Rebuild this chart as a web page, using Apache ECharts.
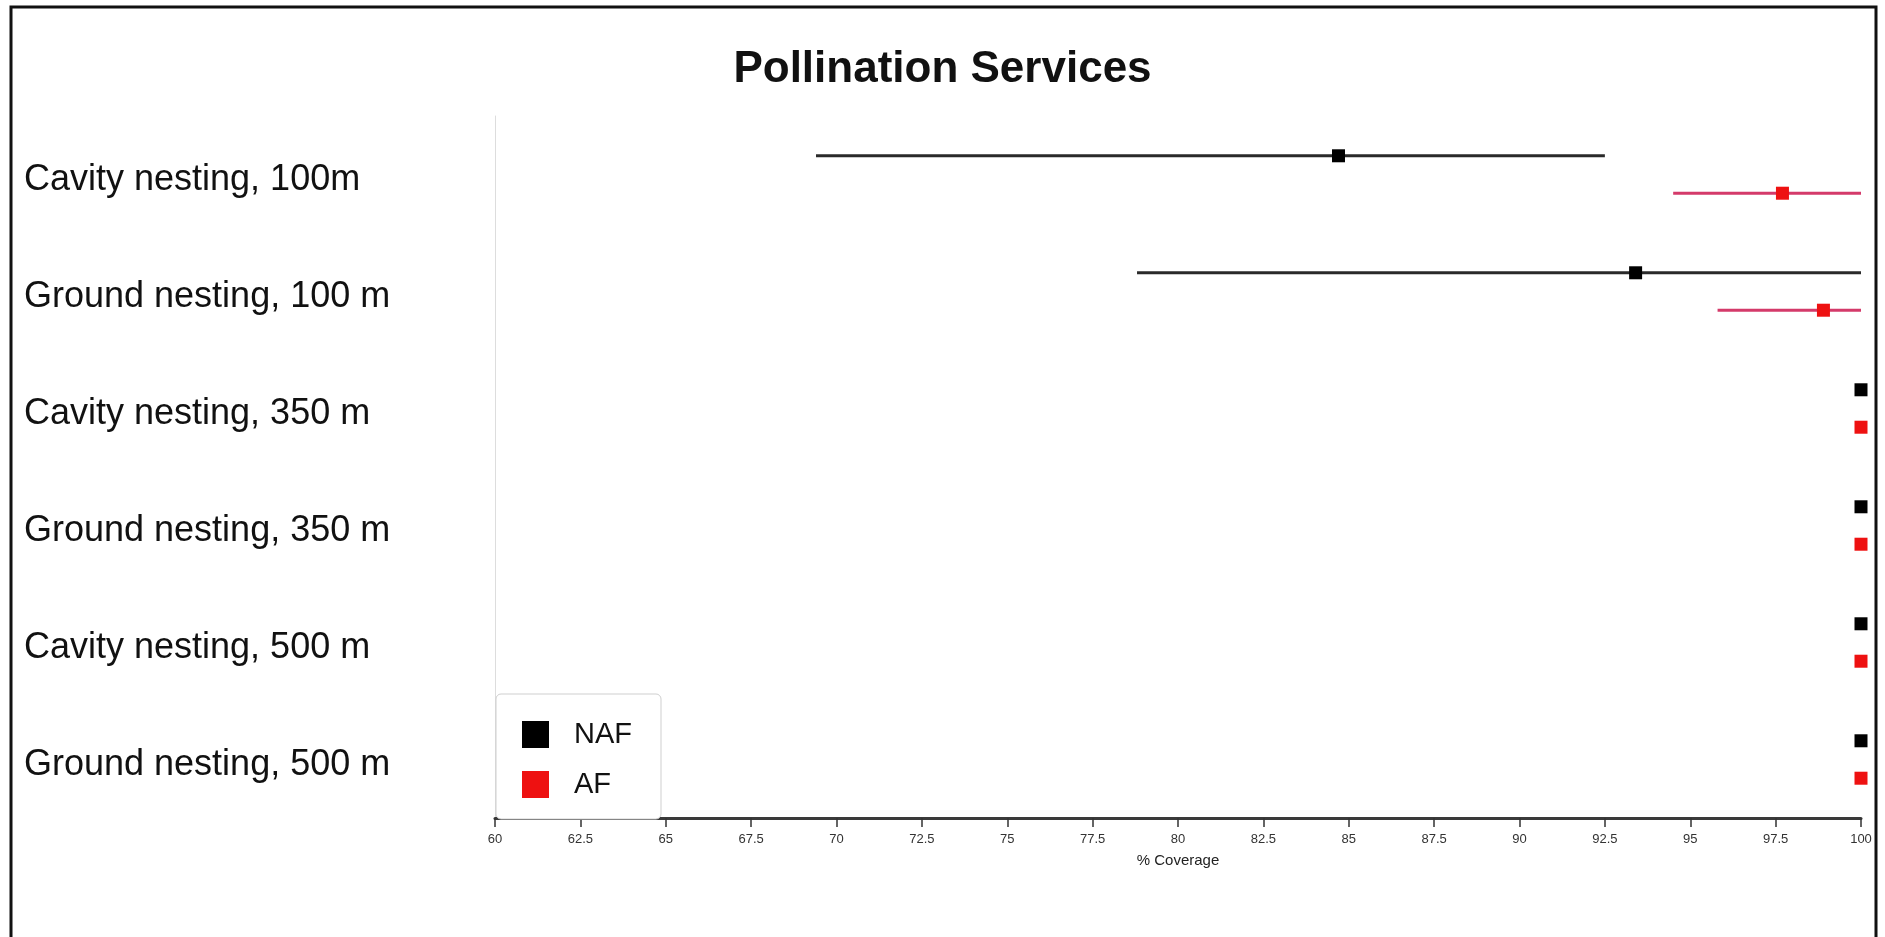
<!DOCTYPE html>
<html>
<head>
<meta charset="utf-8">
<script src="https://cdn.jsdelivr.net/npm/echarts@6/dist/echarts.min.js"></script>
<style>html,body{margin:0;padding:0;background:#fff;}#c{width:1885px;height:937px;}</style>
</head>
<body>
<div id="c"></div>
<script>
const categories = ['Cavity nesting, 100m','Ground nesting, 100 m','Cavity nesting, 350 m','Ground nesting, 350 m','Cavity nesting, 500 m','Ground nesting, 500 m'];
const nafMean = [84.7, 93.4, 100, 100, 100, 100];
const nafLow  = [69.4, 78.8, 100, 100, 100, 100];
const nafHigh = [92.5, 100, 100, 100, 100, 100];
const afMean  = [97.7, 98.9, 100, 100, 100, 100];
const afLow   = [94.5, 95.8, 100, 100, 100, 100];
const afHigh  = [100, 100, 100, 100, 100, 100];
const xTicks = [60, 62.5, 65, 67.5, 70, 72.5, 75, 77.5, 80, 82.5, 85, 87.5, 90, 92.5, 95, 97.5, 100];

function makeData(mean, low, high) {
  return categories.map((c, i) => [mean[i], low[i], high[i], i]);
}
function makeRender(sign, lineColor, fillColor) {
  return function (params, api) {
    const ci = api.value(3);
    const p = api.coord([api.value(0), ci]);
    const lo = api.coord([api.value(1), ci]);
    const hi = api.coord([api.value(2), ci]);
    const band = api.size([0, 1])[1];
    const off = sign * band * 0.16;
    const s = 13;
    return {
      type: 'group',
      children: [
        {type: 'line', shape: {x1: lo[0], y1: lo[1] + off, x2: hi[0], y2: hi[1] + off}, style: {stroke: lineColor, lineWidth: 3}},
        {type: 'rect', shape: {x: p[0] - s / 2, y: p[1] + off - s / 2, width: s, height: s}, style: {fill: fillColor}}
      ]
    };
  };
}

const chart = echarts.init(document.getElementById('c'), null, {renderer: 'canvas'});
chart.setOption({
  backgroundColor: '#fff',
  animation: false,
  title: {
    text: 'Pollination Services', left: 'center', top: 43,
    textStyle: {fontFamily: 'Liberation Sans', fontSize: 44, fontWeight: 'bold', color: '#111'}
  },
  graphic: [{
    type: 'rect', z: 100, silent: true,
    shape: {x: 11, y: 7, width: 1865, height: 1000},
    style: {fill: 'none', stroke: '#111', lineWidth: 3}
  }],
  legend: {
    data: ['NAF', 'AF'], orient: 'vertical', left: 496, top: 694,
    icon: 'rect', itemWidth: 27, itemHeight: 27, itemGap: 21,
    padding: [26, 29, 20, 26],
    backgroundColor: '#fff', borderColor: '#cfcfcf', borderWidth: 1, borderRadius: 5,
    textStyle: {fontFamily: 'Liberation Sans', fontSize: 29, color: '#111', padding: [0, 0, 0, 20]}
  },
  grid: {left: 495, right: 24, top: 116, bottom: 119, containLabel: false},
  xAxis: {
    type: 'value', min: 60, max: 100, interval: 2.5,
    name: '% Coverage', nameLocation: 'middle', nameGap: 35,
    nameTextStyle: {fontFamily: 'Liberation Sans', fontSize: 15, color: '#222'},
    axisLine: {show: true, lineStyle: {color: '#3a3a3a', width: 3}},
    axisTick: {show: true, length: 9, lineStyle: {color: '#333', width: 1.5}},
    axisLabel: {
      fontFamily: 'Liberation Sans', fontSize: 13, color: '#333', margin: 15,
      formatter: v => (xTicks.indexOf(v) >= 0 ? String(v) : '')
    },
    splitLine: {show: false}
  },
  yAxis: {
    type: 'category', data: categories, inverse: true,
    axisLine: {show: true, lineStyle: {color: '#dddddd', width: 1}},
    axisTick: {show: false},
    axisLabel: {
      align: 'left', margin: 471,
      formatter: v => '{a|' + v + '}',
      rich: {a: {fontFamily: 'Liberation Sans', fontSize: 36, color: '#111', padding: [12, 0, 0, 0], align: 'left'}}
    },
    splitLine: {show: false}
  },
  series: [
    {
      name: 'NAF', type: 'custom', clip: false,
      itemStyle: {color: '#000'},
      renderItem: makeRender(-1, '#2a2a2a', '#000'),
      encode: {x: [0, 1, 2], y: 3},
      data: makeData(nafMean, nafLow, nafHigh)
    },
    {
      name: 'AF', type: 'custom', clip: false,
      itemStyle: {color: '#ee1111'},
      renderItem: makeRender(1, '#d43a6a', '#ee1111'),
      encode: {x: [0, 1, 2], y: 3},
      data: makeData(afMean, afLow, afHigh)
    }
  ]
});
</script>
</body>
</html>
